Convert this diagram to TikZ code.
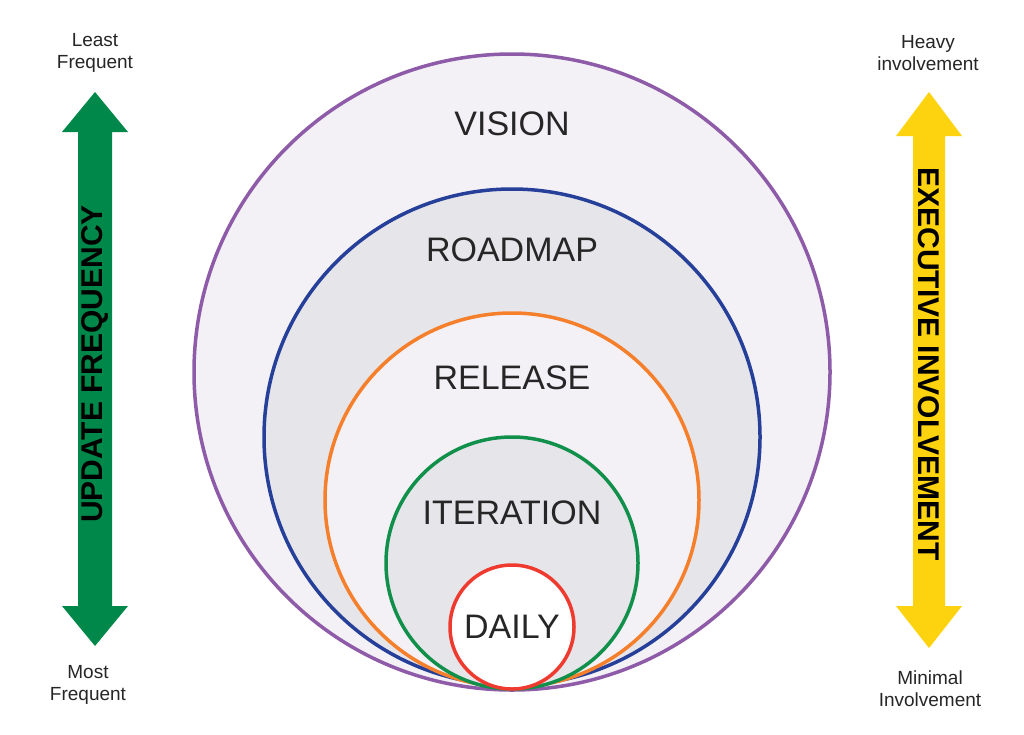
\documentclass[tikz,border=0pt]{standalone}
\usepackage{fontspec}
\setmainfont{Liberation Sans}
\usetikzlibrary{positioning}
\definecolor{lav}{HTML}{F3F1F6}
\definecolor{lgray}{HTML}{E6E5EA}
\definecolor{cvision}{HTML}{8E5BA8}
\definecolor{croad}{HTML}{26409A}
\definecolor{crel}{HTML}{F57F2A}
\definecolor{citer}{HTML}{10904A}
\definecolor{cdaily}{HTML}{EE3A2F}
\definecolor{agreen}{HTML}{00884A}
\definecolor{ayellow}{HTML}{FDD20E}
\tikzset{ring/.style={line width=3.5pt},
  lbl/.style={font=\fontsize{34}{34}\selectfont,text=black!85},
  side/.style={font=\fontsize{19}{22}\selectfont,align=center,text=black!85},
  axis/.style={font=\bfseries\fontsize{30}{30}\selectfont,rotate=-90}}
\begin{document}
\begin{tikzpicture}[x=1pt,y=-1pt]
\useasboundingbox (0,0) rectangle (1024,734);
\fill[white] (0,0) rectangle (1024,734);
% circles
\draw[ring,cvision,fill=lav] (512,372) circle (318);
\draw[ring,croad,fill=lgray] (512,437) circle (248);
\draw[ring,crel,fill=lav] (512,500) circle (187);
\draw[ring,citer,fill=lgray] (512,563) circle (126);
\draw[ring,cdaily,fill=white] (512,627) circle (62);
\node[lbl] (vision) at (512,124) {VISION};
\node[lbl] (roadmap) at (512,250) {ROADMAP};
\node[lbl] (release) at (512,378) {RELEASE};
\node[lbl] (iteration) at (512,513) {ITERATION};
\node[lbl] (daily) at (512,627) {DAILY};
% arrows
\fill[agreen] (95,92) -- (128,132) -- (112,132) -- (112,606) -- (128,606)
  -- (95,646) -- (62,606) -- (78,606) -- (78,132) -- (62,132) -- cycle;
\fill[ayellow] (929,92) -- (962,136) -- (945,136) -- (945,606) -- (962,606)
  -- (929,648) -- (896,606) -- (913,606) -- (913,136) -- (896,136) -- cycle;
\node[axis,rotate=180,text=black] (upd) at (95,364) {UPDATE FREQUENCY};
\node[axis,text=black] (exe) at (929,364) {EXECUTIVE INVOLVEMENT};
\node[side] (least) at (95,53) {Least\\Frequent};
\node[side] (most) at (88,685) {Most\\Frequent};
\node[side] (heavy) at (928,53) {Heavy\\involvement};
\node[side] (minimal) at (930,689) {Minimal\\Involvement};
\end{tikzpicture}
\end{document}
